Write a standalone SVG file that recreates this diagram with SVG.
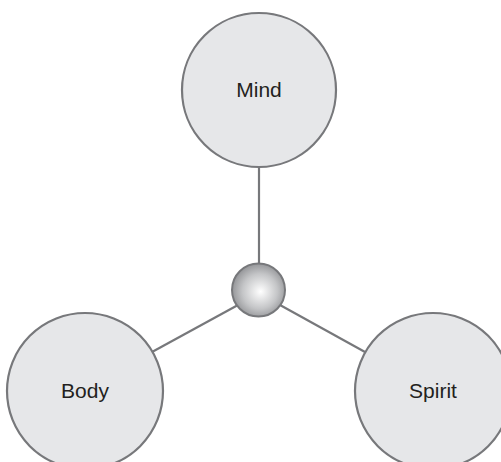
<svg xmlns="http://www.w3.org/2000/svg" width="501" height="462" viewBox="0 0 501 462">
<style>
.node{fill:#e6e7e9;stroke:#77787b;stroke-width:2.2}
.lbl{font-family:"Liberation Sans",Arial,sans-serif;font-size:21px;fill:#231f20;text-anchor:middle}
.conn{stroke:#77787b;stroke-width:2.2;fill:none}
</style>
<defs>
<radialGradient id="sph" cx="0.52" cy="0.52" r="0.55" fx="0.54" fy="0.53">
<stop offset="0" stop-color="#ffffff"/>
<stop offset="0.6" stop-color="#c4c5c7"/>
<stop offset="1" stop-color="#8e8f92"/>
</radialGradient>
</defs>
<g id="connectors">
<line class="conn" x1="259" y1="167" x2="259" y2="264"/>
<line class="conn" x1="152" y1="352" x2="238" y2="305"/>
<line class="conn" x1="365" y1="352" x2="280" y2="305"/>
</g>
<g id="mind">
<circle class="node" cx="259" cy="90" r="77"/>
<text class="lbl" x="259" y="97">Mind</text>
</g>
<g id="body">
<circle class="node" cx="85" cy="391" r="78"/>
<text class="lbl" x="85" y="398">Body</text>
</g>
<g id="spirit">
<circle class="node" cx="433" cy="391" r="78"/>
<text class="lbl" x="433" y="398">Spirit</text>
</g>
<g id="hub">
<circle cx="258.5" cy="290" r="26.5" fill="url(#sph)" stroke="#77787b" stroke-width="2"/>
</g>
</svg>
